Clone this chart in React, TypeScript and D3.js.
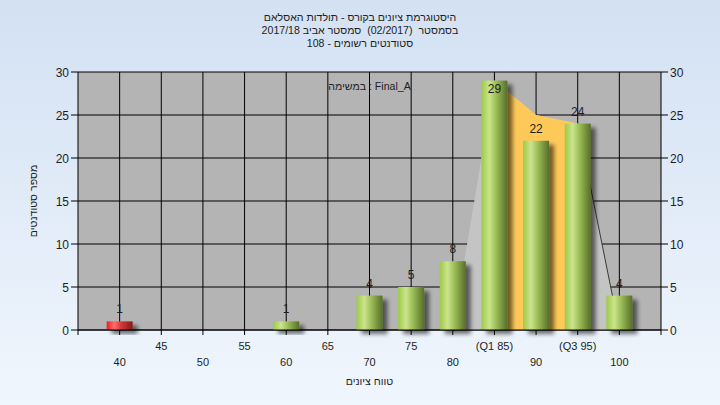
import React from "react";
import * as d3 from "d3";

const categories = [40, 45, 50, 55, 60, 65, 70, 75, 80, 85, 90, 95, 100];
const counts = [1, 0, 0, 0, 1, 0, 4, 5, 8, 29, 22, 24, 4];
const tickLabels = ["40", "45", "50", "55", "60", "65", "70", "75", "80", "(Q1 85)", "90", "(Q3 95)", "100"];
const failingCategories = [40];
const envelopeCats = [80, 85, 90, 95, 100];
const envelopeValues = [0, 29, 25, 24, 0];
const iqrCats = [85, 90, 95];
const iqrValues = [29, 25, 24];
const yTicks = [0, 5, 10, 15, 20, 25, 30];
const titleLines = [
  "היסטוגרמת ציונים בקורס - תולדות האסלאם",
  "בסמסטר  (02/2017)  סמסטר אביב 2017/18",
  "סטודנטים רשומים - 108",
];
const taskLabel = "במשימה : Final_A";
const xTitle = "טווח ציונים";
const yTitle = "מספר סטודנטים";

const W = 720;
const H = 405;
const L = 78;
const R = 661;
const T = 72;
const B = 330;
const FONT = "'Liberation Sans', Arial, sans-serif";
const TXT = "#1e1e1e";
const HEB = 10.6;

export default function App() {
  const x = d3.scaleLinear().domain([35, 105]).range([L, R]);
  const y = d3.scaleLinear().domain([0, 30]).range([B, T]);
  const barW = 26;

  const envArea = d3
    .area<number>()
    .x((_, i) => x(envelopeCats[i]))
    .y0(y(0))
    .y1((d) => y(d));
  const iqrArea = d3
    .area<number>()
    .x((_, i) => x(iqrCats[i]))
    .y0(y(0))
    .y1((d) => y(d));
  const tailLine = d3
    .line<number>()
    .x((_, i) => x(envelopeCats[i + 3]))
    .y((d) => y(d));

  return (
    <svg
      width={W}
      height={H}
      style={{ position: "absolute", left: 0, top: 0 }}
      fontFamily={FONT}
    >
      <defs>
        <linearGradient id="bg" x1="0" y1="0" x2="0" y2="1">
          <stop offset="0" stopColor="#d3e1f3" />
          <stop offset="1" stopColor="#f0f6fd" />
        </linearGradient>
        <linearGradient id="green" x1="0" y1="0" x2="1" y2="0">
          <stop offset="0" stopColor="#9ec948" />
          <stop offset="0.3" stopColor="#cbe48d" />
          <stop offset="0.55" stopColor="#9fc05a" />
          <stop offset="1" stopColor="#566f28" />
        </linearGradient>
        <linearGradient id="red" x1="0" y1="0" x2="1" y2="0">
          <stop offset="0" stopColor="#e42222" />
          <stop offset="0.3" stopColor="#ff6c6c" />
          <stop offset="0.55" stopColor="#d43a3a" />
          <stop offset="1" stopColor="#861818" />
        </linearGradient>
        <filter id="shadow" x="-50%" y="-50%" width="200%" height="200%">
          <feGaussianBlur in="SourceAlpha" stdDeviation="2" />
          <feOffset dx="5" dy="4" result="off" />
          <feComponentTransfer>
            <feFuncA type="linear" slope="0.55" />
          </feComponentTransfer>
          <feMerge>
            <feMergeNode />
            <feMergeNode in="SourceGraphic" />
          </feMerge>
        </filter>
      </defs>
      <rect x={0} y={0} width={W} height={H} fill="url(#bg)" />

      {/* title */}
      {titleLines.map((t, i) => (
        <text
          key={i}
          x={360}
          y={21 + i * 13}
          textAnchor="middle"
          direction="rtl"
          fontSize={HEB}
          fill={TXT}
          style={{ whiteSpace: "pre" }}
        >
          {t}
        </text>
      ))}

      {/* plot background */}
      <rect x={L} y={T} width={R - L} height={B - T} fill="#b4b4b4" />

      {/* grid */}
      {yTicks.map((t) => (
        <line key={"hg" + t} x1={L} x2={R} y1={y(t)} y2={y(t)} stroke="#000" strokeWidth={1} />
      ))}
      {categories.map((c) => (
        <line key={"vg" + c} x1={x(c)} x2={x(c)} y1={T} y2={B} stroke="#000" strokeWidth={1} />
      ))}

      {/* areas */}
      <path d={envArea(envelopeValues) || ""} fill="#c4c4c4" />
      <path d={iqrArea(iqrValues) || ""} fill="#fec958" />
      <path d={tailLine(envelopeValues.slice(3)) || ""} fill="none" stroke="#3a3a3a" strokeWidth={1} />

      <text x={(L + R) / 2} y={90} textAnchor="middle" fontSize={HEB} fill={TXT}>
        {taskLabel}
      </text>

      {/* bars */}
      {categories.map((c, i) =>
        counts[i] > 0 ? (
          <rect
            key={"b" + c}
            x={x(c) - barW / 2}
            y={y(counts[i])}
            width={barW}
            height={y(0) - y(counts[i])}
            fill={failingCategories.includes(c) ? "url(#red)" : "url(#green)"}
            filter="url(#shadow)"
          />
        ) : null
      )}

      {/* value labels */}
      {categories.map((c, i) => {
        if (counts[i] <= 0) return null;
        const top = y(counts[i]);
        let cy = top - 12;
        if (cy - 6 < T) cy = top + 8;
        return (
          <text key={"v" + c} x={x(c)} y={cy + 4} textAnchor="middle" fontSize={12} fill={TXT}>
            {counts[i]}
          </text>
        );
      })}

      {/* axes */}
      <line x1={L} x2={L} y1={T} y2={B + 5} stroke="#000" />
      <line x1={R} x2={R} y1={T} y2={B + 5} stroke="#000" />
      <line x1={L} x2={R} y1={B} y2={B} stroke="#000" />
      {yTicks.map((t) => (
        <g key={"yt" + t}>
          <line x1={L - 7} x2={L} y1={y(t)} y2={y(t)} stroke="#000" />
          <line x1={R} x2={R + 7} y1={y(t)} y2={y(t)} stroke="#000" />
          <text x={L - 9} y={y(t) + 4.5} textAnchor="end" fontSize={12} fill={TXT}>
            {t}
          </text>
          <text x={R + 9} y={y(t) + 4.5} textAnchor="start" fontSize={12} fill={TXT}>
            {t}
          </text>
        </g>
      ))}
      {categories.map((c, i) => (
        <g key={"xt" + c}>
          <line x1={x(c)} x2={x(c)} y1={B} y2={B + 5} stroke="#000" />
          <text
            x={x(c)}
            y={i % 2 === 0 ? 366 : 350}
            textAnchor="middle"
            fontSize={11}
            fill={TXT}
          >
            {tickLabels[i]}
          </text>
        </g>
      ))}

      <text x={(L + R) / 2} y={385} textAnchor="middle" direction="rtl" fontSize={HEB} fill={TXT}>
        {xTitle}
      </text>
      <text
        transform={`translate(37, ${(T + B) / 2}) rotate(-90)`}
        textAnchor="middle"
        direction="rtl"
        fontSize={HEB}
        fill={TXT}
      >
        {yTitle}
      </text>
    </svg>
  );
}
